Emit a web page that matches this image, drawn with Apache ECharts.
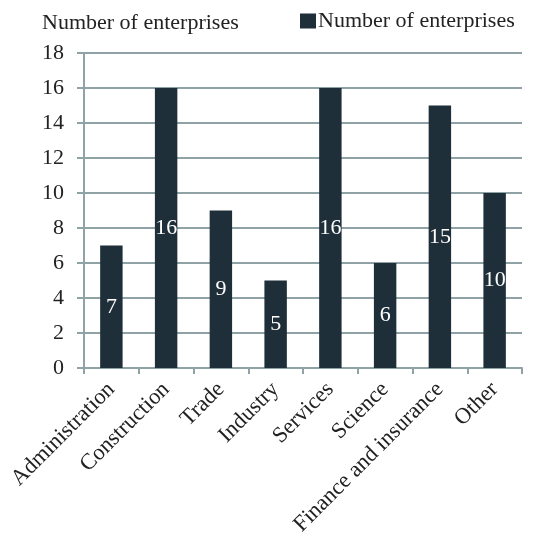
<!DOCTYPE html>
<html><head><meta charset="utf-8">
<script src="https://cdn.jsdelivr.net/npm/echarts@6/dist/echarts.min.js"></script>
<style>html,body{margin:0;padding:0;background:#fff}#c{width:537px;height:540px}</style>
</head><body><div id="c"></div>
<script>
const categories = ["Administration","Construction","Trade","Industry","Services","Science","Finance and insurance","Other"];
const values = [7,16,9,5,16,6,15,10];
const seriesName = "Number of enterprises";
const axisTitle = "Number of enterprises";
const FONT = "Liberation Serif";
const gridColor = "#8fa3a7";
const barColor = "#1f2f3a";
const chart = echarts.init(document.getElementById('c'));
chart.setOption({
  animation:false,
  textStyle:{fontFamily:FONT},
  title:{text:axisTitle,left:37,top:7,textStyle:{fontFamily:FONT,fontSize:22,fontWeight:'normal',color:'#222'}},
  legend:{left:295,top:5,icon:'rect',itemWidth:16,itemHeight:15,itemGap:4,
    textStyle:{fontFamily:FONT,fontSize:22,color:'#222',padding:[0,0,0,-3]},data:[seriesName]},
  grid:{left:84,right:15,top:53,bottom:172},
  xAxis:{type:'category',data:categories,
    axisLine:{lineStyle:{color:gridColor,width:2}},
    axisTick:{show:true,interval:0,length:6,lineStyle:{color:gridColor,width:2}},
    axisLabel:{interval:0,rotate:45,fontFamily:FONT,fontSize:22.5,color:'#222',margin:18}},
  yAxis:{type:'value',min:0,max:18,interval:2,
    axisLine:{show:true,lineStyle:{color:gridColor,width:2}},
    axisTick:{show:true,length:7,lineStyle:{color:gridColor,width:2}},
    splitLine:{lineStyle:{color:gridColor,width:2}},
    axisLabel:{fontFamily:FONT,fontSize:22,color:'#222',margin:20}},
  series:[{name:seriesName,type:'bar',data:values,barWidth:'41%',
    itemStyle:{color:barColor},
    label:{show:true,position:'inside',fontFamily:FONT,fontSize:22,color:'#fff'}}]
});
</script></body></html>
